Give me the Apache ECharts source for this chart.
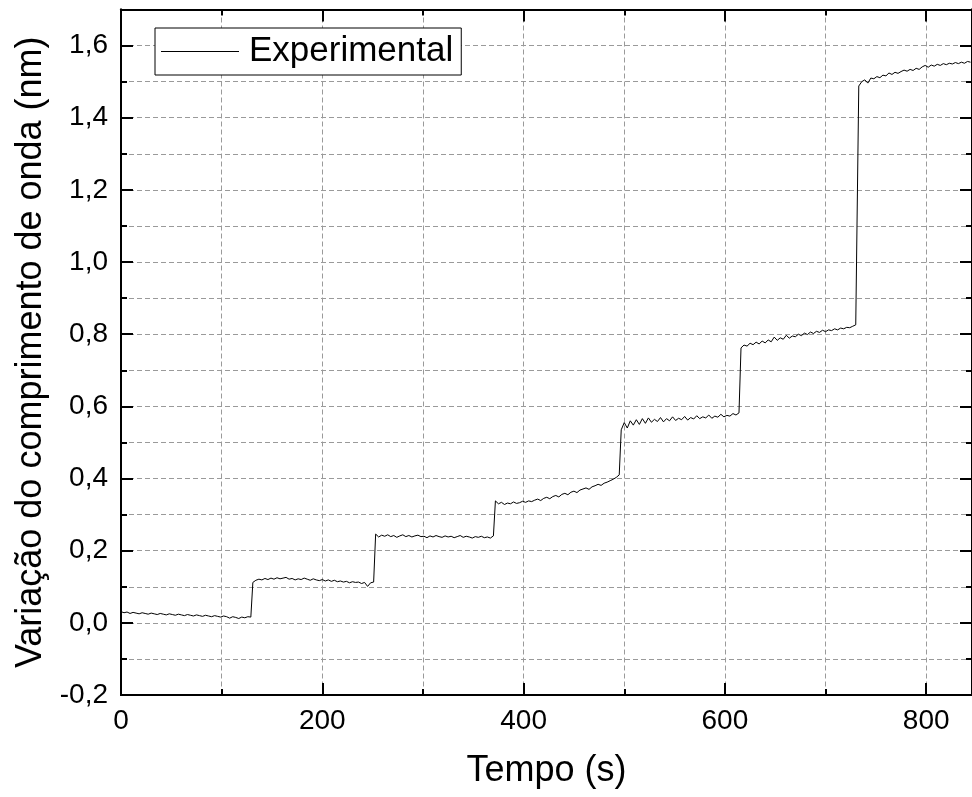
<!DOCTYPE html>
<html>
<head>
<meta charset="utf-8">
<script src="https://cdn.jsdelivr.net/npm/echarts@6/dist/echarts.min.js"></script>
<style>
html,body{margin:0;padding:0;background:#fff;}
#c{width:972px;height:797px;}
</style>
</head>
<body>
<div id="c"></div>
<script>
// Time axis sampling: each plateau segment starts at segStart and is sampled every 3 s
const segStart = [0, 131, 253, 372, 497, 616, 733];
const sampleStep = 3;
const seg1 = [0.031,0.028,0.030,0.026,0.029,0.027,0.025,0.028,0.026,0.024,
0.027,0.025,0.023,0.026,0.024,0.022,0.025,0.023,0.021,0.024,
0.022,0.020,0.023,0.021,0.019,0.022,0.020,0.018,0.021,0.019,
0.017,0.020,0.018,0.016,0.019,0.017,0.013,0.017,0.015,0.012,
0.016,0.014,0.017,0.016];
const seg2 = [0.112,0.118,0.121,0.119,0.123,0.120,0.124,0.121,0.125,0.122,
0.124,0.126,0.121,0.123,0.119,0.122,0.120,0.124,0.121,0.118,
0.122,0.119,0.117,0.120,0.116,0.119,0.115,0.118,0.114,0.116,
0.113,0.115,0.111,0.114,0.112,0.113,0.109,0.112,0.101,0.111,
0.113];
const seg3 = [0.246,0.238,0.243,0.240,0.244,0.239,0.242,0.237,0.241,0.244,
0.239,0.242,0.238,0.241,0.243,0.239,0.240,0.236,0.241,0.238,
0.242,0.239,0.237,0.241,0.238,0.240,0.236,0.239,0.242,0.237,
0.240,0.238,0.235,0.239,0.237,0.240,0.236,0.238,0.235,0.241];
const seg4 = [0.338,0.330,0.334,0.328,0.332,0.330,0.335,0.331,0.333,0.337,
0.334,0.338,0.336,0.340,0.343,0.339,0.345,0.348,0.344,0.350,
0.353,0.349,0.356,0.359,0.355,0.362,0.365,0.361,0.368,0.371,
0.374,0.370,0.377,0.380,0.384,0.381,0.387,0.390,0.394,0.398,
0.403,0.410];
const seg5 = [0.535,0.555,0.540,0.560,0.548,0.563,0.550,0.566,0.553,0.568,
0.556,0.564,0.558,0.569,0.557,0.566,0.560,0.571,0.561,0.567,
0.563,0.572,0.562,0.569,0.565,0.574,0.566,0.571,0.568,0.576,
0.567,0.573,0.570,0.578,0.571,0.575,0.573,0.580,0.576,0.582];
const seg6 = [0.762,0.770,0.767,0.775,0.771,0.778,0.773,0.781,0.776,0.784,
0.779,0.792,0.783,0.790,0.786,0.797,0.789,0.795,0.793,0.800,
0.796,0.803,0.799,0.806,0.802,0.808,0.805,0.811,0.807,0.812,
0.810,0.815,0.812,0.817,0.815,0.819,0.818,0.822,0.826];
const seg7 = [1.488,1.500,1.505,1.496,1.510,1.508,1.514,1.511,1.518,1.516,
1.524,1.520,1.526,1.523,1.528,1.532,1.529,1.534,1.531,1.537,
1.534,1.541,1.545,1.540,1.546,1.543,1.548,1.545,1.550,1.547,
1.551,1.549,1.553,1.550,1.554,1.551,1.556,1.554];
const xTicks = [0, 200, 400, 600, 800];
const yTicks = [-0.2, 0.0, 0.2, 0.4, 0.6, 0.8, 1.0, 1.2, 1.4, 1.6];

const segments = [seg1, seg2, seg3, seg4, seg5, seg6, seg7];
const data = [];
segments.forEach((seg, s) => {
  seg.forEach((v, i) => data.push([segStart[s] + i * sampleStep, v]));
});

const FONT = '"Liberation Sans", Arial, sans-serif';
const black = '#000';
const gridLine = {show: true, lineStyle: {color: '#9a9a9a', width: 1, type: [5, 3]}};
const XMIN = 0, XMAX = 845.5, YMIN = -0.2, YMAX = 1.7;

function xAx(pos, interval, tickLen, opts) {
  return Object.assign({
    type: 'value', position: pos, min: XMIN, max: XMAX, interval: interval,
    axisLine: {show: true, onZero: false, lineStyle: {color: black, width: 2}},
    axisTick: {show: true, inside: true, length: tickLen, lineStyle: {color: black, width: 2}},
    axisLabel: {show: false},
    splitLine: {show: false}
  }, opts || {});
}
function yAx(pos, interval, tickLen, opts) {
  return Object.assign({
    type: 'value', position: pos, min: YMIN, max: YMAX, interval: interval,
    axisLine: {show: true, onZero: false, lineStyle: {color: black, width: 2}},
    axisTick: {show: true, inside: true, length: tickLen, lineStyle: {color: black, width: 2}},
    axisLabel: {show: false},
    splitLine: {show: false}
  }, opts || {});
}

const chart = echarts.init(document.getElementById('c'));
chart.setOption({
  backgroundColor: '#fff',
  animation: false,
  textStyle: {fontFamily: FONT},
  grid: {left: 121, top: 9.5, width: 852, height: 685.5, containLabel: false},
  legend: {
    show: true, left: 155, top: 28,
    data: [{name: 'Experimental', icon: 'rect'}],
    itemWidth: 78, itemHeight: 1.2, itemGap: 0,
    padding: [6, 8, 6, 6],
    borderColor: black, borderWidth: 1, backgroundColor: '#fff',
    textStyle: {fontSize: 35, color: black, fontFamily: FONT, padding: [0, 0, 0, 5]}
  },
  xAxis: [
    xAx('bottom', 100, 6, {splitLine: gridLine}),
    xAx('bottom', 200, 12, {
      axisLabel: {show: true, fontSize: 28, color: black, margin: 12, fontFamily: FONT,
        showMaxLabel: false,
        formatter: v => (xTicks.indexOf(v) >= 0 ? String(v) : '')},
      name: 'Tempo (s)', nameLocation: 'middle', nameGap: 58,
      nameTextStyle: {fontSize: 36, color: black, fontFamily: FONT}
    }),
    xAx('top', 100, 6),
    xAx('top', 200, 12)
  ],
  yAxis: [
    yAx('left', 0.1, 6, {splitLine: gridLine}),
    yAx('left', 0.2, 12, {
      axisLabel: {show: true, fontSize: 28, color: black, margin: 13, fontFamily: FONT,
        showMaxLabel: false,
        formatter: v => {
          const r = Math.round(v * 10) / 10;
          return yTicks.some(t => Math.abs(t - r) < 1e-9) ? r.toFixed(1).replace('.', ',') : '';
        }},
      name: 'Variação do comprimento de onda (nm)', nameLocation: 'middle', nameGap: 70,
      nameTextStyle: {fontSize: 36, color: black, fontFamily: FONT}
    }),
    yAx('right', 0.1, 6),
    yAx('right', 0.2, 12)
  ],
  series: [{
    name: 'Experimental', type: 'line', xAxisIndex: 0, yAxisIndex: 0,
    data: data, showSymbol: false, symbol: 'none',
    lineStyle: {color: black, width: 1}, itemStyle: {color: black},
    z: 5
  }]
});
</script>
</body>
</html>
